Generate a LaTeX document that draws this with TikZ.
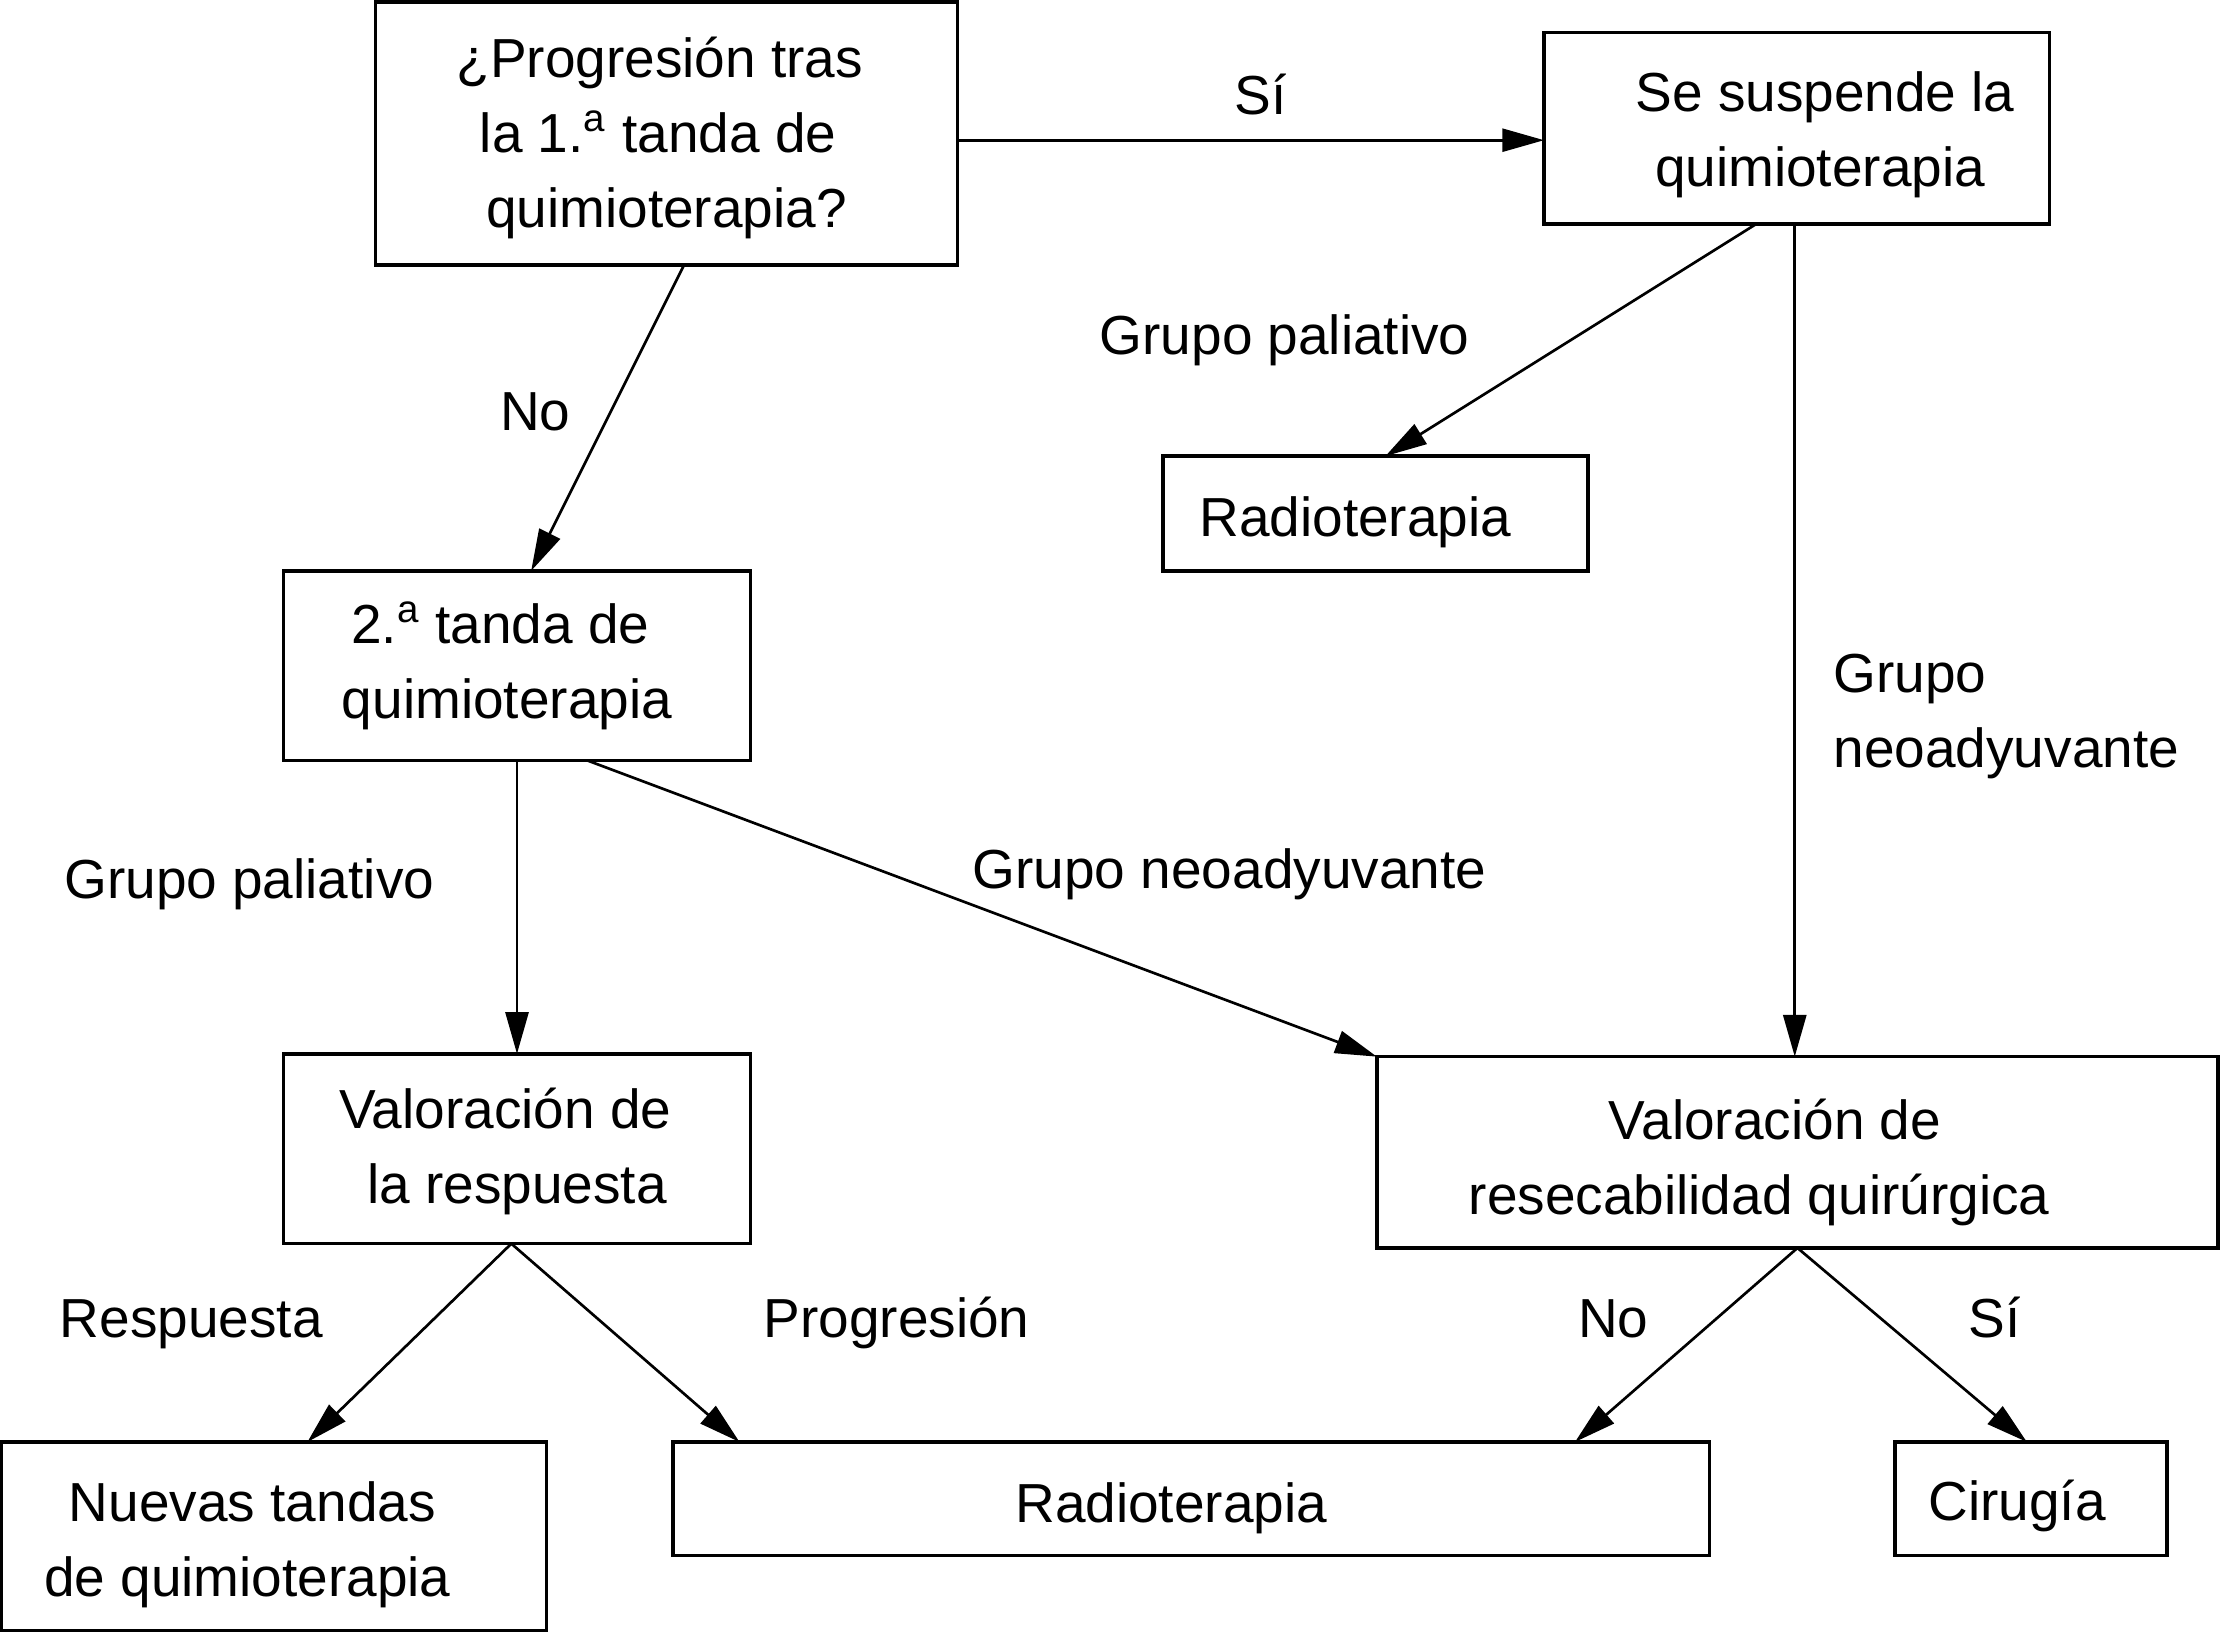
\documentclass[tikz,border=0pt]{standalone}
\usepackage{fontspec}
\setmainfont{Liberation Sans}
\usetikzlibrary{arrows.meta}
\newcommand{\sh}[1]{\hspace*{#1}}
\begin{document}
\begin{tikzpicture}[x=0.425pt,y=-0.425pt,
  font=\fontsize{16.5pt}{22.5pt}\selectfont,
  box/.style={draw, line width=1.05pt, rectangle, inner sep=0pt, outer sep=0pt},
  txt/.style={inner sep=0pt, align=center},
  arr/.style={line width=0.8pt, -{Triangle[length=12.5pt,width=6.9pt]}},
  lbl/.style={inner sep=0pt, anchor=base}]
\useasboundingbox (0,0) rectangle (1568,1153);

% boxes
\node[box, minimum width=174.7pt, minimum height=78.8pt] (Q) at (470.5,94.25) {};
\node[box, minimum width=151.7pt, minimum height=57.4pt] (S) at (1268.5,90.5) {};
\node[box, minimum width=127.5pt, minimum height=34.4pt] (R1) at (971,362.5) {};
\node[box, minimum width=140.25pt, minimum height=56.95pt] (B2) at (365,470) {};
\node[box, minimum width=140.25pt, minimum height=56.95pt] (V1) at (365,811) {};
\node[box, minimum width=252.45pt, minimum height=57.4pt] (V2) at (1269,813.5) {};
\node[box, minimum width=163.6pt, minimum height=56.5pt] (N) at (193.5,1084.5) {};
\node[box, minimum width=311.1pt, minimum height=34pt] (R2) at (841,1058) {};
\node[box, minimum width=81.6pt, minimum height=34pt] (C) at (1434,1058) {};

% box texts
\node[txt] (Qt) at ([yshift=-1.3pt]Q.center)
  {\sh{-4pt}¿Progresión tras\\\sh{-5pt}la 1.\textsuperscript{a} tanda de\\quimioterapia?};
\node[txt] (St) at ([yshift=-2.1pt]S.center)
  {\sh{17pt}Se suspende la\\\sh{14pt}quimioterapia};
\node[txt] (R1t) at ([yshift=-2.5pt]R1.center) {\sh{-12pt}Radioterapia};
\node[txt] (B2t) at (B2.center)
  {\sh{-10pt}2.\textsuperscript{a} tanda de\\\sh{-6pt}quimioterapia};
\node[txt] (V1t) at ([yshift=-0.85pt]V1.center)
  {\sh{-7pt}Valoración de\\la respuesta};
\node[txt] (V2t) at ([yshift=-3pt]V2.center)
  {\sh{-13.5pt}Valoración de\\\sh{-23pt}resecabilidad quirúrgica};
\node[txt] (Nt) at ([yshift=-2.6pt]N.center)
  {\sh{-13pt}Nuevas tandas\\\sh{-16pt}de quimioterapia};
\node[txt] (R2t) at ([yshift=-3pt]R2.center) {\sh{-12pt}Radioterapia};
\node[txt] (Ct) at ([yshift=-2.1pt]C.center) {\sh{-8.5pt}Cirugía};

% connectors
\path ([yshift=-3.6pt]S.west) coordinate (sw);
\draw[arr] (sw -| Q.east) -- (sw);
\draw[arr] ([xshift=5.3pt]Q.south) -- ([xshift=4.25pt]B2.north);
\draw[arr] ([xshift=-12.1pt]S.south) -- ([xshift=3pt]R1.north);
\draw[arr] ([xshift=-0.6pt]S.south) -- ([xshift=-0.6pt]S.south |- V2.north);
\draw[arr] (B2.south) -- (V1.north);
\draw[arr] ([xshift=21.25pt]B2.south) -- (V2.north west);
\draw[arr] ([xshift=-1.7pt]V1.south) -- ([xshift=10pt]N.north);
\draw[arr] ([xshift=-1.7pt]V1.south) -- ([xshift=20pt]R2.north west);
\draw[arr] (V2.south) -- ([xshift=-40.4pt]R2.north east);
\draw[arr] (V2.south) -- ([xshift=-1.3pt]C.north);

% labels
\node[lbl] (l1) at (890,81) {Sí};
\node[lbl] (l2) at (378,304) {No};
\node[lbl] (l3) at (907,250) {Grupo paliativo};
\node[lbl, anchor=base west] (l4a) at (1294,489) {Grupo};
\node[lbl, anchor=base west] (l4b) at (1294,541.5) {neoadyuvante};
\node[lbl] (l5) at (176,634) {Grupo paliativo};
\node[lbl] (l6) at (868,627) {Grupo neoadyuvante};
\node[lbl] (l7) at (135,944) {Respuesta};
\node[lbl] (l8) at (633,944) {Progresión};
\node[lbl] (l9) at (1139,944) {No};
\node[lbl] (l10) at (1408,944) {Sí};
\end{tikzpicture}
\end{document}
